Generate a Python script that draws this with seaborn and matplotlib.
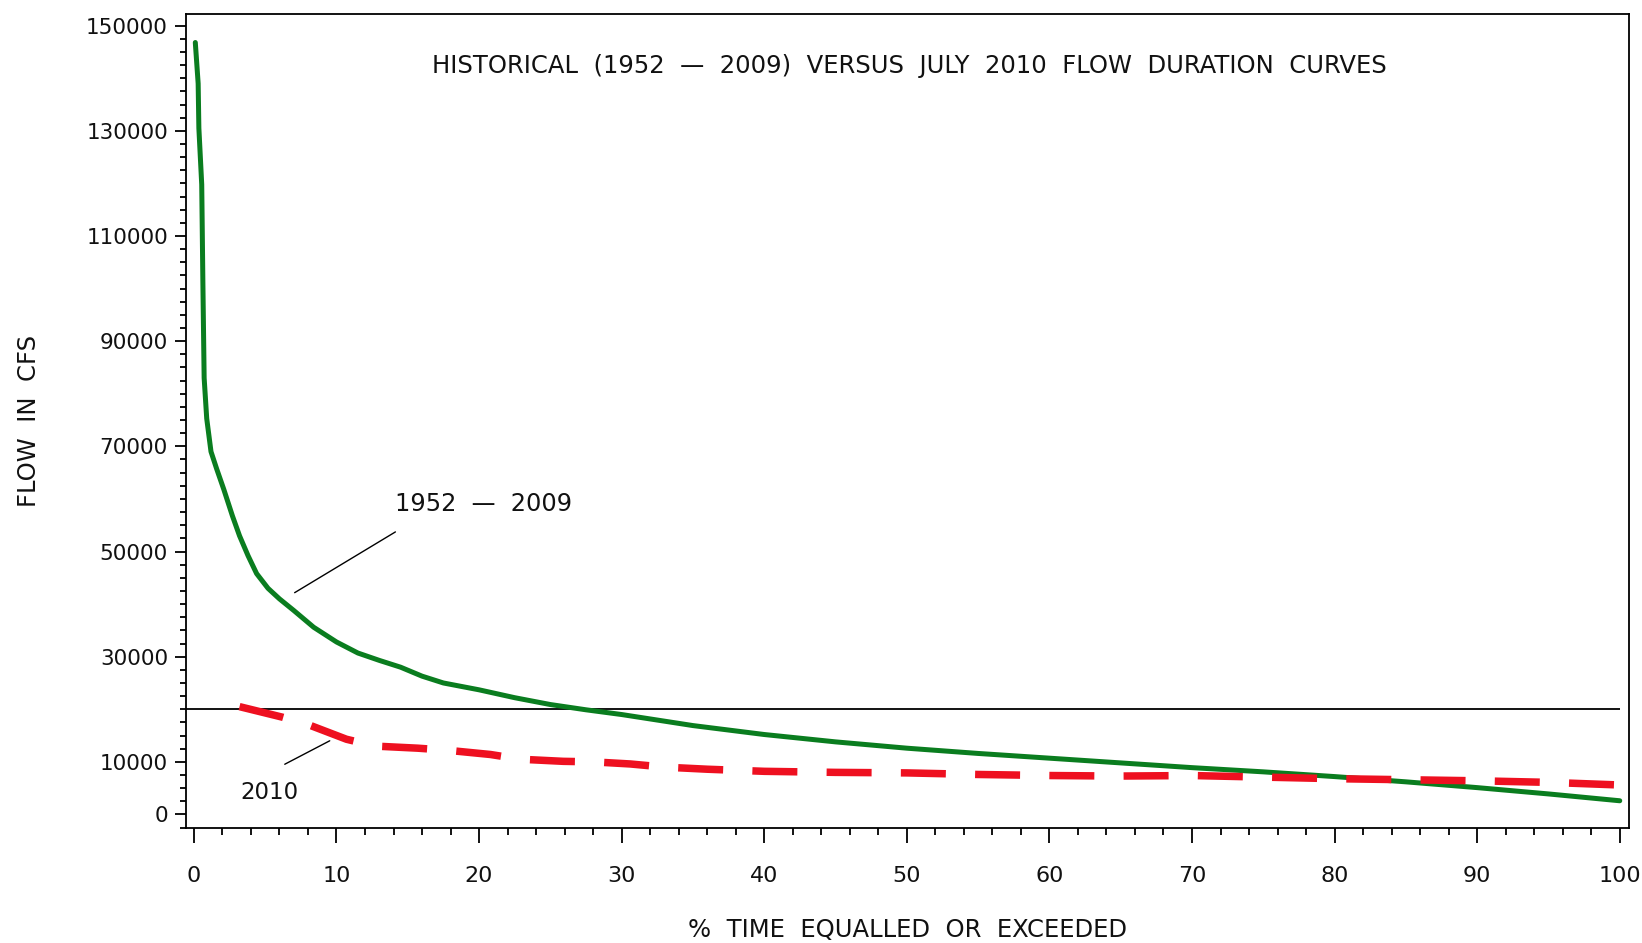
import matplotlib
matplotlib.use("Agg")
import matplotlib.pyplot as plt
import seaborn as sns
from matplotlib.ticker import FixedLocator, MultipleLocator

# historical 1952-2009 flow duration curve (% time equalled or exceeded, cfs)
hist_pct = [0.1, 0.3, 0.35, 0.55, 0.63, 0.72, 0.9, 1.2, 1.6, 2.1, 2.7, 3.2, 3.8,
            4.4, 5.2, 6.0, 7.0, 8.4, 10.0, 11.5, 13.0, 14.5, 16.0, 17.5, 20.0,
            22.5, 25.0, 27.5, 30.0, 35.0, 40.0, 45.0, 50.0, 55.0, 60.0, 65.0,
            70.0, 75.0, 80.0, 85.0, 90.0, 95.0, 100.0]
hist_flow = [146800, 139000, 130500, 119800, 101400, 83000, 75300, 69000, 65700,
             61800, 56800, 53000, 49200, 45800, 43000, 41000, 38800, 35600, 32800,
             30700, 29300, 28000, 26300, 25000, 23700, 22200, 20900, 19900, 19000,
             16900, 15200, 13800, 12600, 11600, 10700, 9800, 8900, 8100, 7200,
             6200, 5100, 3900, 2600]

# July 2010 flow duration curve
jul_pct = [3.2, 6.2, 8.0, 10.7, 12.7, 15.7, 17.8, 20.8, 22.9, 25.9, 28.0, 30.6,
           33.0, 36.0, 40.0, 45.0, 50.0, 55.0, 60.0, 65.0, 70.0, 75.0, 80.0, 85.0,
           90.0, 95.0, 100.0]
jul_flow = [20500, 18500, 17100, 14300, 13000, 12600, 12200, 11400, 10500, 10100,
            10000, 9600, 9000, 8600, 8200, 8000, 7900, 7600, 7400, 7300, 7400, 7100,
            6800, 6600, 6400, 6100, 5600]

ref_flow = 20000
x_major = list(range(0, 101, 10))
y_major = [0, 10000, 30000, 50000, 70000, 90000, 110000, 130000, 150000]

sns.set_style("ticks")
plt.rcParams["font.family"] = ["DejaVu Sans"]
plt.rcParams["text.color"] = "#111111"
plt.rcParams["axes.labelcolor"] = "#111111"
plt.rcParams["xtick.color"] = "black"
plt.rcParams["ytick.color"] = "black"
plt.rcParams["xtick.labelcolor"] = "#111111"
plt.rcParams["ytick.labelcolor"] = "#111111"

fig = plt.figure(figsize=(16.42, 9.43), dpi=100)
ax = fig.add_axes([0.1133, 0.122, 0.8788, 0.8636])

xlim = (-0.55, 100.65)
ax.set_xlim(*xlim)
ax.set_ylim(-2570, 152300)

ax.hlines(ref_flow, xlim[0], 100, color="black", lw=1.3, zorder=2)

sns.lineplot(x=hist_pct, y=hist_flow, ax=ax, color="#0a7d1f", lw=3.6,
             sort=False, zorder=3)
sns.lineplot(x=jul_pct, y=jul_flow, ax=ax, color="#ee1020", lw=5.4,
             linestyle=(0, (6.0, 3.9)), sort=False, zorder=4)

# ticks
ax.xaxis.set_major_locator(FixedLocator(x_major))
ax.xaxis.set_minor_locator(MultipleLocator(2))
ax.yaxis.set_major_locator(FixedLocator(y_major))
ax.yaxis.set_minor_locator(MultipleLocator(2500))
ax.tick_params(axis="x", which="major", length=11, width=1.3, pad=16.5,
               labelsize=16, direction="out")
ax.tick_params(axis="x", which="minor", length=5, width=1.3, direction="out")
ax.tick_params(axis="y", which="major", length=8, width=1.3, pad=5,
               labelsize=15.5, direction="out")
ax.tick_params(axis="y", which="minor", length=4.5, width=1.3, direction="out")
ax.set_xticklabels([str(v) for v in x_major])
ax.set_yticklabels([str(v) for v in y_major])

for s in ax.spines.values():
    s.set_linewidth(1.3)
    s.set_color("black")

ax.set_xlabel("%  TIME  EQUALLED  OR  EXCEEDED", fontsize=17.5, va="center")
ax.xaxis.set_label_coords(0.5, -0.125)
ax.set_ylabel("FLOW  IN  CFS", fontsize=17.5, va="center")
ax.yaxis.set_label_coords(-0.109, 0.5)

ax.text(0.501, 0.9357,
        "HISTORICAL  (1952  \u2014  2009)  VERSUS  JULY  2010  FLOW  DURATION  CURVES",
        transform=ax.transAxes, ha="center", va="center", fontsize=17.5)

# curve labels with leader lines
ax.text(20.3, 59000, "1952  \u2014  2009", ha="center", va="center", fontsize=17.3)
ax.annotate("", xy=(6.9, 41900), xytext=(14.3, 54000),
            arrowprops=dict(arrowstyle="-", lw=1, color="black"))
ax.text(5.3, 4100, "2010", ha="center", va="center", fontsize=16.5)
ax.annotate("", xy=(9.7, 14250), xytext=(6.2, 9300),
            arrowprops=dict(arrowstyle="-", lw=1, color="black"))

fig.savefig("out.png", dpi=100)
